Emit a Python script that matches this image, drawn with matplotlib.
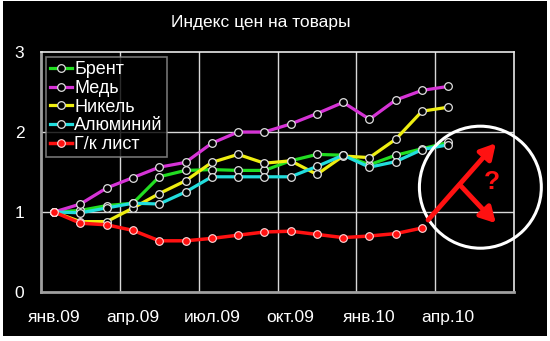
import matplotlib
matplotlib.use("Agg")
import matplotlib.pyplot as plt
from matplotlib.patches import Rectangle, Ellipse
import numpy as np

plt.rcParams['font.family'] = ['Liberation Sans', 'DejaVu Sans']

# months jan.09 .. jun.10 (category axis)
months = ['янв.09', 'фев.09', 'мар.09', 'апр.09', 'май.09', 'июн.09',
          'июл.09', 'авг.09', 'сен.09', 'окт.09', 'ноя.09', 'дек.09',
          'янв.10', 'фев.10', 'мар.10', 'апр.10', 'май.10', 'июн.10']

brent = [1.00, 1.02, 1.08, 1.11, 1.44, 1.52, 1.53, 1.52, 1.52, 1.64, 1.72, 1.71,
         1.59, 1.71, 1.79, 1.87]
copper = [1.00, 1.10, 1.30, 1.43, 1.56, 1.62, 1.86, 2.00, 2.00, 2.10, 2.23, 2.37,
          2.16, 2.40, 2.52, 2.57]
nickel = [1.00, 0.88, 0.88, 1.05, 1.23, 1.39, 1.62, 1.72, 1.61, 1.64, 1.47, 1.70,
          1.68, 1.91, 2.26, 2.31]
alum = [1.00, 0.99, 1.05, 1.11, 1.10, 1.25, 1.44, 1.44, 1.44, 1.44, 1.57, 1.71,
        1.56, 1.63, 1.78, 1.84]
sheet = [1.00, 0.86, 0.84, 0.77, 0.64, 0.64, 0.67, 0.71, 0.75, 0.76, 0.72, 0.68,
         0.70, 0.73, 0.80]

names = ['Брент', 'Медь', 'Никель', 'Алюминий', 'Г/к лист']
colors = ['#22dd22', '#d633d6', '#eeee11', '#22dddd', '#ff1111']
series = [brent, copper, nickel, alum, sheet]

fig = plt.figure(figsize=(5.5, 3.41), dpi=100)
fig.patch.set_facecolor('white')
fig.patches.append(Rectangle((3 / 550, 5 / 341), 544 / 550, 335 / 341,
                             transform=fig.transFigure, facecolor='black',
                             edgecolor='none', zorder=-10))

ax = fig.add_axes([41 / 550, 49 / 341, 473 / 550, 240 / 341])
ax.set_facecolor('black')

for name, col, vals in zip(names, colors, series):
    x = np.arange(len(vals))
    if name == 'Г/к лист':
        ax.plot(x, vals, color=col, lw=2.5, marker='o', ms=5.5,
                mfc=col, mec='#ffdddd', mew=0.8, label=name, zorder=3)
    else:
        ax.plot(x, vals, color=col, lw=2.3, marker='o', ms=5.5,
                mfc='black', mec='#e0e0e0', mew=0.9, label=name, zorder=3)

ax.set_xlim(-0.5, len(months) - 0.5)
ax.set_ylim(0, 3)
ax.set_yticks([0, 1, 2, 3])
ax.set_xticks(np.arange(0, len(months), 3))
ax.set_xticklabels(months[::3])
ax.grid(False)
for xv in np.arange(2.5, len(months) - 1, 3):
    ax.axvline(xv, color='#d8d8d8', lw=1, zorder=1)
for yv in [1, 2]:
    ax.axhline(yv, color='#d8d8d8', lw=1, zorder=1)

ax.tick_params(axis='both', which='both', length=0, colors='white', labelsize=12.5)
ax.tick_params(axis='x', pad=13)
ax.tick_params(axis='y', pad=12)
for s in ['left', 'bottom']:
    ax.spines[s].set_color('#a0a0a0')
    ax.spines[s].set_linewidth(2)
for s in ['top', 'right']:
    ax.spines[s].set_color('#e8e8e8')
    ax.spines[s].set_linewidth(1.2)

leg = ax.legend(loc='upper left', fontsize=13, frameon=True, fancybox=False,
                facecolor='black', edgecolor='#909090', labelcolor='white',
                handlelength=1.2, handletextpad=0.15, labelspacing=0.1,
                borderpad=0.2, borderaxespad=0.3, numpoints=1)
leg.get_frame().set_linewidth(1.2)

fig.text(261 / 550, 1 - 23 / 341, 'Индекс цен на товары', color='white',
         fontsize=12.5, ha='center', va='center')

# question annotation
ax.add_patch(Ellipse((16.22, 1.31), 4.64, 1.525, fill=False, edgecolor='white',
                     lw=2.2, zorder=5, clip_on=False))
arrow_style = '-|>,head_length=0.9,head_width=0.5'
ax.annotate('', xy=(16.81, 1.86), xytext=(14.23, 0.90),
            arrowprops=dict(arrowstyle=arrow_style, color='#ff1111', lw=3.5,
                            shrinkA=0, shrinkB=0),
            zorder=6, annotation_clip=False)
ax.annotate('', xy=(16.81, 0.86), xytext=(15.48, 1.325),
            arrowprops=dict(arrowstyle=arrow_style, color='#ff1111', lw=3.5,
                            shrinkA=0, shrinkB=0),
            zorder=6, annotation_clip=False)
ax.text(16.66, 1.375, '?', color='#ff1111', fontsize=19, fontweight='bold',
        ha='center', va='center', zorder=6)

fig.savefig('out.png', dpi=100, facecolor=fig.get_facecolor())
